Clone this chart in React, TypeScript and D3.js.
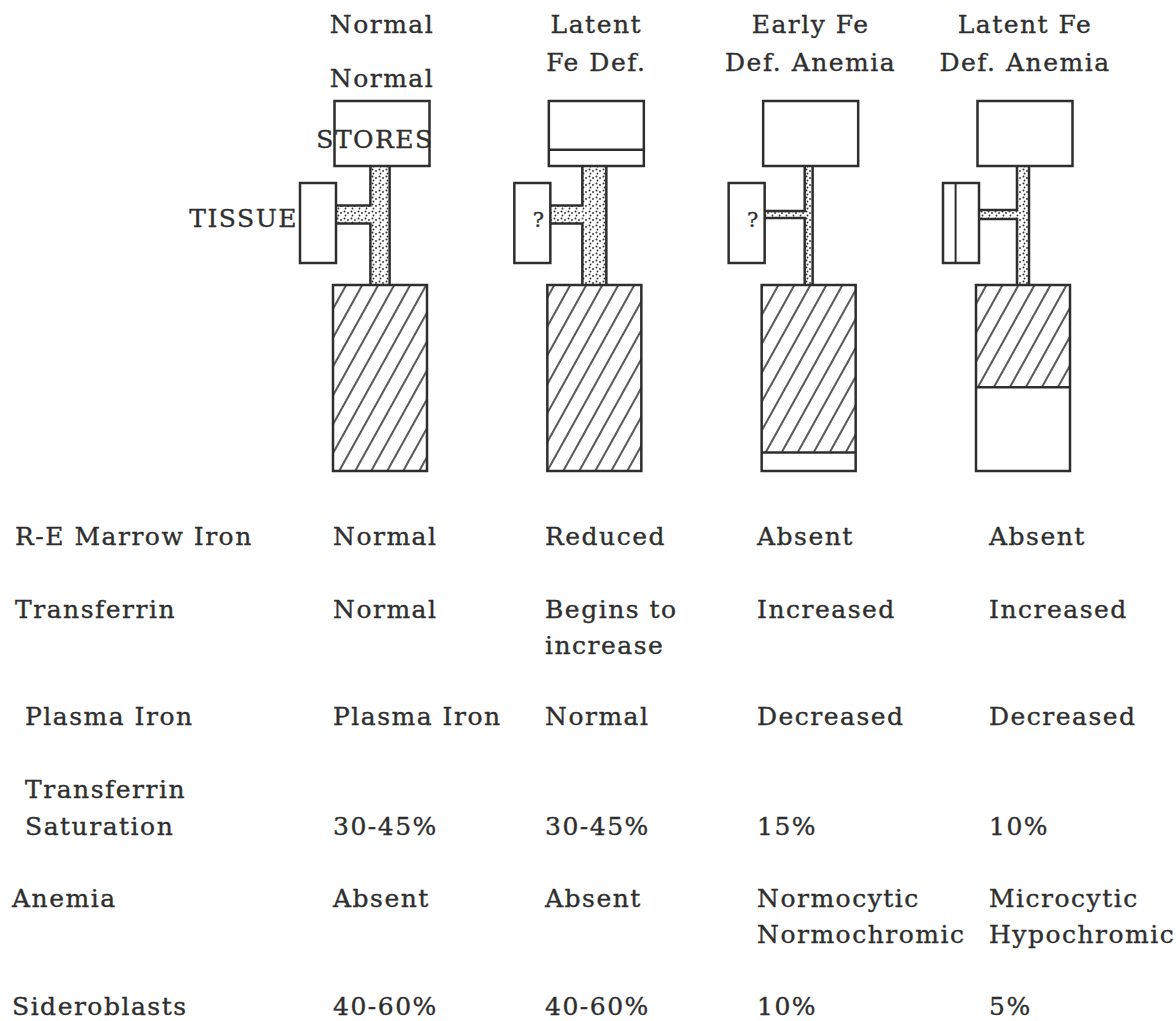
import * as d3 from "d3";

// stages (column headers)
const stages = ["Normal", "Latent Fe Def.", "Early Fe Def. Anemia", "Latent Fe Def. Anemia"];
const stageLines = [["Normal"], ["Latent", "Fe Def."], ["Early Fe", "Def. Anemia"], ["Latent Fe", "Def. Anemia"]];

// diagram values per stage
const storesLevel = [1, 0.25, 0, 0]; // fraction of stores box still filled (line drawn when partial)
const transport = [0.8, 1, 0.33, 0.5]; // plasma iron / transferrin flow -> connector width
const tissueFlow = [1, 1, 0.4, 0.5]; // flow into tissue -> branch thickness
const tissueMark = ["", "?", "?", ""];
const tissueSplit = [0, 0, 0, 0.35];
const hbLevel = [1, 1, 0.9, 0.55]; // hatched (hemoglobin iron) fraction

// table
const rowLabels = [["R-E Marrow Iron"], ["Transferrin"], ["Plasma Iron"], ["Transferrin", "Saturation"], ["Anemia"], ["Sideroblasts"]];
const marrowIron = [["Normal"], ["Reduced"], ["Absent"], ["Absent"]];
const transferrin = [["Normal"], ["Begins to", "increase"], ["Increased"], ["Increased"]];
const plasmaIron = [["Plasma Iron"], ["Normal"], ["Decreased"], ["Decreased"]];
const saturation = [["30-45%"], ["30-45%"], ["15%"], ["10%"]];
const anemia = [["Absent"], ["Absent"], ["Normocytic", "Normochromic"], ["Microcytic", "Hypochromic"]];
const sideroblasts = [["40-60%"], ["40-60%"], ["10%"], ["5%"]];
const rows = [marrowIron, transferrin, plasmaIron, saturation, anemia, sideroblasts];

const W = 1176;
const H = 1021;
const ink = "#2e2e2e";
const font = "'DejaVu Serif', serif";
const fs = 25;
const ls = 1.5;

const x = d3.scalePoint<string>().domain(stages).range([382, 1025]);
const colX = d3.scaleOrdinal<string, number>().domain(stages).range([333, 545, 757, 989]);
const rowY = [545, 618, 725, 835, 907, 1015];
const labelX = [15, 15, 25, 25, 12, 12];

const storesY = d3.scaleLinear().domain([0, 1]).range([166, 101]);
const hbY = d3.scaleLinear().domain([0, 1]).range([471, 285]);
const connW = d3.scaleLinear().domain([0, 1]).range([0, 24]);
const branchH = d3.scaleLinear().domain([0, 1]).range([0, 18]);

const txt = { fontFamily: font, fontSize: fs, letterSpacing: ls, fill: ink, stroke: ink, strokeWidth: 0.35 } as const;

export default function App() {
  return (
    <svg width={W} height={H} style={{ position: "absolute", left: 0, top: 0, background: "#fff" }}>
      <defs>
        <pattern id="hatch" width={14} height={14} patternUnits="userSpaceOnUse" patternTransform="rotate(29)">
          <line x1={7} y1={-1} x2={7} y2={15} stroke={ink} strokeWidth={1.6} />
        </pattern>
        <pattern id="dots" width={7} height={7} patternUnits="userSpaceOnUse">
          <circle cx={1.5} cy={1.5} r={1} fill={ink} />
          <circle cx={5} cy={3} r={0.9} fill={ink} />
          <circle cx={2.5} cy={5.5} r={0.9} fill={ink} />
        </pattern>
      </defs>

      {stages.map((s, i) => {
        const cx = x(s)!;
        const lines = stageLines[i];
        const cw = connW(transport[i]);
        const cl = cx - 2 - cw / 2;
        const cr = cx - 2 + cw / 2;
        const bh = branchH(tissueFlow[i]);
        const by0 = 214.5 - bh / 2;
        const by1 = 214.5 + bh / 2;
        const tRight = cx - 46;
        const tLeft = tRight - 36;
        const sTop = storesY(1);
        const sBot = storesY(0);
        const hTop = hbY(1);
        const hBot = hbY(0);
        const hx = cx - 49;
        const hw = 94;
        const fillTo = hbY(1 - hbLevel[i]);
        return (
          <g key={s}>
            {lines.map((l, k) => (
              <text key={k} x={cx} y={33 + k * 38} textAnchor="middle" {...txt}>{l}</text>
            ))}
            {/* transport T */}
            <rect x={cl} y={sBot} width={cw} height={hTop - sBot} fill="url(#dots)" />
            <rect x={tRight} y={by0} width={cl - tRight} height={bh} fill="url(#dots)" />
            <path
              d={`M${cl},${sBot}V${by0}H${tRight}M${tRight},${by1}H${cl}V${hTop}M${cr},${sBot}V${hTop}`}
              fill="none"
              stroke={ink}
              strokeWidth={2.5}
            />
            {/* stores */}
            <rect x={cx - 47.5} y={sTop} width={95} height={sBot - sTop} fill="#fff" stroke={ink} strokeWidth={2.5} />
            {storesLevel[i] > 0 && storesLevel[i] < 1 && (
              <line x1={cx - 47.5} x2={cx + 47.5} y1={storesY(storesLevel[i])} y2={storesY(storesLevel[i])} stroke={ink} strokeWidth={2.5} />
            )}
            {/* tissue */}
            <rect x={tLeft} y={183} width={tRight - tLeft} height={80} fill="#fff" stroke={ink} strokeWidth={2.5} />
            {tissueSplit[i] > 0 && (
              <line x1={tLeft + tissueSplit[i] * (tRight - tLeft)} x2={tLeft + tissueSplit[i] * (tRight - tLeft)} y1={183} y2={263} stroke={ink} strokeWidth={2} />
            )}
            {tissueMark[i] && (
              <text x={tRight - 12} y={227} textAnchor="middle" {...txt} fontSize={21} letterSpacing={0}>{tissueMark[i]}</text>
            )}
            {/* hemoglobin */}
            <rect x={hx} y={hTop} width={hw} height={fillTo - hTop} fill="url(#hatch)" />
            <rect x={hx} y={hTop} width={hw} height={hBot - hTop} fill="none" stroke={ink} strokeWidth={2.5} />
            {hbLevel[i] < 1 && (
              <line x1={hx} x2={hx + hw} y1={fillTo} y2={fillTo} stroke={ink} strokeWidth={2.5} />
            )}
          </g>
        );
      })}

      <text x={x(stages[0])!} y={87} textAnchor="middle" {...txt}>Normal</text>
      <text x={x(stages[0])! - 7} y={148} textAnchor="middle" {...txt}>STORES</text>
      <text x={298} y={227} textAnchor="end" {...txt}>TISSUE</text>

      {rowLabels.map((lab, r) =>
        lab.map((l, k) => (
          <text key={`l${r}${k}`} x={labelX[r]} y={rowY[r] - (lab.length - 1 - k) * 37} {...txt}>{l}</text>
        ))
      )}
      {rows.map((vals, r) =>
        vals.map((v, c) =>
          v.map((l, k) => (
            <text key={`v${r}${c}${k}`} x={colX(stages[c])} y={rowY[r] + k * 36} {...txt}>{l}</text>
          ))
        )
      )}
    </svg>
  );
}
